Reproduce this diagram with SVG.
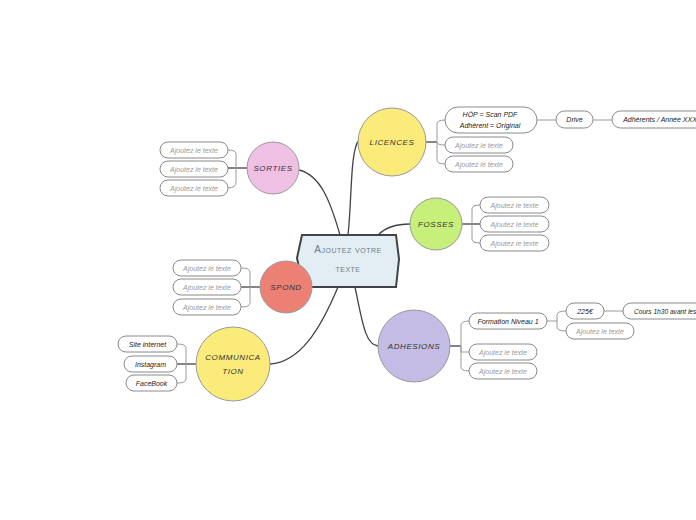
<svg xmlns="http://www.w3.org/2000/svg" width="696" height="520" viewBox="0 0 696 520">
<style>
.main{fill:none;stroke:#3f4448;stroke-width:1.3}
.leaf{fill:none;stroke:#9a9a9a;stroke-width:1}
.pill{fill:#fff;stroke:#8a8a8a;stroke-width:1}
.circ{stroke:#9a9a9a;stroke-width:1}
.t{font-family:"Liberation Sans",Arial,sans-serif;font-style:italic;font-size:7px;text-anchor:middle;fill:#222}
.g{fill:#9a9a9a}
.c{font-family:"Liberation Sans",Arial,sans-serif;font-style:italic;font-size:8px;letter-spacing:0.6px;text-anchor:middle;fill:#333}
.ctr{font-family:"Liberation Sans",Arial,sans-serif;font-size:10px;font-variant:small-caps;letter-spacing:0.5px;text-anchor:middle;fill:#6f7c86}
</style>
<rect width="696" height="520" fill="#fff"/>
<g id="connectors">
<path class="main" d="M348,235 C352,200 350,150 359,140"/>
<path class="main" d="M340,235 C330,200 320,175 299,170"/>
<path class="main" d="M378,235 C385,228 395,224 410,224"/>
<path class="main" d="M300,286 L312,286"/>
<path class="main" d="M338,287 C320,330 300,362 270,364"/>
<path class="main" d="M355,287 C362,320 365,345 378,346"/>
<path class="main" d="M426,142 H437"/>
<path class="leaf" d="M437,142 V124 Q437,120 445,120 M437,142 Q437,145 445,145 M437,142 V160 Q437,164 445,164"/>
<path class="leaf" d="M537,120 H556 M593,120 H612"/>
<path class="main" d="M247,168 H228"/>
<path class="leaf" d="M236,168 V154 Q236,150 228,150 M236,168 V182 Q236,188 228,188"/>
<path class="main" d="M462,224 H480"/>
<path class="leaf" d="M472,224 V209 Q472,205 480,205 M472,224 V239 Q472,243 480,243"/>
<path class="main" d="M260,287 H241"/>
<path class="leaf" d="M250,287 V272 Q250,268 241,268 M250,287 V303 Q250,307 241,307"/>
<path class="main" d="M196,364 H177"/>
<path class="leaf" d="M186,364 V348 Q186,344 177,344 M186,364 V379 Q186,383 177,383"/>
<path class="main" d="M450,346 H461"/>
<path class="leaf" d="M461,346 V325 Q461,321 469,321 M461,346 V352 Q461,352 469,352 M461,346 V367 Q461,371 469,371"/>
<path class="leaf" d="M547,321 H557 M557,321 V315 Q557,311 566,311 M557,321 V327 Q557,331 566,331 M604,311 H623"/>
</g>
<g id="center">
<polygon points="302,235 396,235 399,259 396,287 303,287 297,258" fill="#e2eef4" stroke="#3f4448" stroke-width="2"/>
<text class="ctr" x="348" y="253">Ajoutez votre</text>
<text class="ctr" x="348" y="272">texte</text>
</g>
<g id="licences">
<circle class="circ" cx="392" cy="142" r="34" fill="#fbeb7a"/>
<text class="c" x="392" y="145">LICENCES</text>
</g>
<g id="lic-1"><rect class="pill" x="445" y="107" width="92" height="26" rx="13"/><text class="t" x="490" y="117">HÖP = Scan PDF</text><text class="t" x="490" y="128">Adhérent = Original</text></g>
<g id="lic-2"><rect class="pill" x="445" y="137" width="68" height="16" rx="8"/><text class="t g" x="479" y="147.5">Ajoutez le texte</text></g>
<g id="lic-3"><rect class="pill" x="445" y="156" width="68" height="16" rx="8"/><text class="t g" x="479" y="166.5">Ajoutez le texte</text></g>
<g id="drive"><rect class="pill" x="556" y="111" width="37" height="17" rx="8.5"/><text class="t" x="574.5" y="122">Drive</text></g>
<g id="adherents"><rect class="pill" x="612" y="111" width="96" height="17" rx="8.5"/><text class="t" x="660" y="122">Adhérents / Année XXX</text></g>
<g id="sorties">
<circle class="circ" cx="273" cy="168" r="26" fill="#f0c0e4"/>
<text class="c" x="273" y="171">SORTIES</text>
</g>
<g id="sor-1"><rect class="pill" x="160" y="142" width="68" height="16" rx="8"/><text class="t g" x="194" y="152.5">Ajoutez le texte</text></g>
<g id="sor-2"><rect class="pill" x="160" y="161" width="68" height="16" rx="8"/><text class="t g" x="194" y="171.5">Ajoutez le texte</text></g>
<g id="sor-3"><rect class="pill" x="160" y="180" width="68" height="16" rx="8"/><text class="t g" x="194" y="190.5">Ajoutez le texte</text></g>
<g id="fosses">
<circle class="circ" cx="436" cy="224" r="26" fill="#c6f07a"/>
<text class="c" x="436" y="227">FOSSES</text>
</g>
<g id="fos-1"><rect class="pill" x="480" y="197" width="69" height="16" rx="8"/><text class="t g" x="514.5" y="207.5">Ajoutez le texte</text></g>
<g id="fos-2"><rect class="pill" x="480" y="216" width="69" height="16" rx="8"/><text class="t g" x="514.5" y="226.5">Ajoutez le texte</text></g>
<g id="fos-3"><rect class="pill" x="480" y="235" width="69" height="16" rx="8"/><text class="t g" x="514.5" y="245.5">Ajoutez le texte</text></g>
<g id="spond">
<circle class="circ" cx="286" cy="287" r="26" fill="#ec8074"/>
<text class="c" x="286" y="290">SPOND</text>
</g>
<g id="spo-1"><rect class="pill" x="173" y="260" width="68" height="16" rx="8"/><text class="t g" x="207" y="270.5">Ajoutez le texte</text></g>
<g id="spo-2"><rect class="pill" x="173" y="279" width="68" height="16" rx="8"/><text class="t g" x="207" y="289.5">Ajoutez le texte</text></g>
<g id="spo-3"><rect class="pill" x="173" y="299" width="68" height="16" rx="8"/><text class="t g" x="207" y="309.5">Ajoutez le texte</text></g>
<g id="communication">
<circle class="circ" cx="233" cy="364" r="37" fill="#fbeb7a"/>
<text class="c" x="233" y="360">COMMUNICA</text>
<text class="c" x="233" y="374">TION</text>
</g>
<g id="com-1"><rect class="pill" x="118" y="336" width="59" height="16" rx="8"/><text class="t" x="147.5" y="346.5">Site internet</text></g>
<g id="com-2"><rect class="pill" x="124" y="356" width="53" height="16" rx="8"/><text class="t" x="150.5" y="366.5">Instagram</text></g>
<g id="com-3"><rect class="pill" x="126" y="375" width="51" height="16" rx="8"/><text class="t" x="151.5" y="385.5">FaceBook</text></g>
<g id="adhesions">
<circle class="circ" cx="414" cy="346" r="36" fill="#c4bce4"/>
<text class="c" x="414" y="349">ADHESIONS</text>
</g>
<g id="adh-1"><rect class="pill" x="469" y="313" width="78" height="16" rx="8"/><text class="t" x="508" y="323.5">Formation Niveau 1</text></g>
<g id="adh-2"><rect class="pill" x="469" y="344" width="68" height="16" rx="8"/><text class="t g" x="503" y="354.5">Ajoutez le texte</text></g>
<g id="adh-3"><rect class="pill" x="469" y="363" width="68" height="16" rx="8"/><text class="t g" x="503" y="373.5">Ajoutez le texte</text></g>
<g id="prix"><rect class="pill" x="566" y="303" width="38" height="16" rx="8"/><text class="t" x="585" y="313.5">225€</text></g>
<g id="adh-4"><rect class="pill" x="566" y="323" width="68" height="16" rx="8"/><text class="t g" x="600" y="333.5">Ajoutez le texte</text></g>
<g id="cours"><rect class="pill" x="623" y="303" width="90" height="16" rx="8"/><text class="t" x="634" y="313.5" style="text-anchor:start;font-size:6.6px">Cours 1h30 avant les</text></g>
</svg>
